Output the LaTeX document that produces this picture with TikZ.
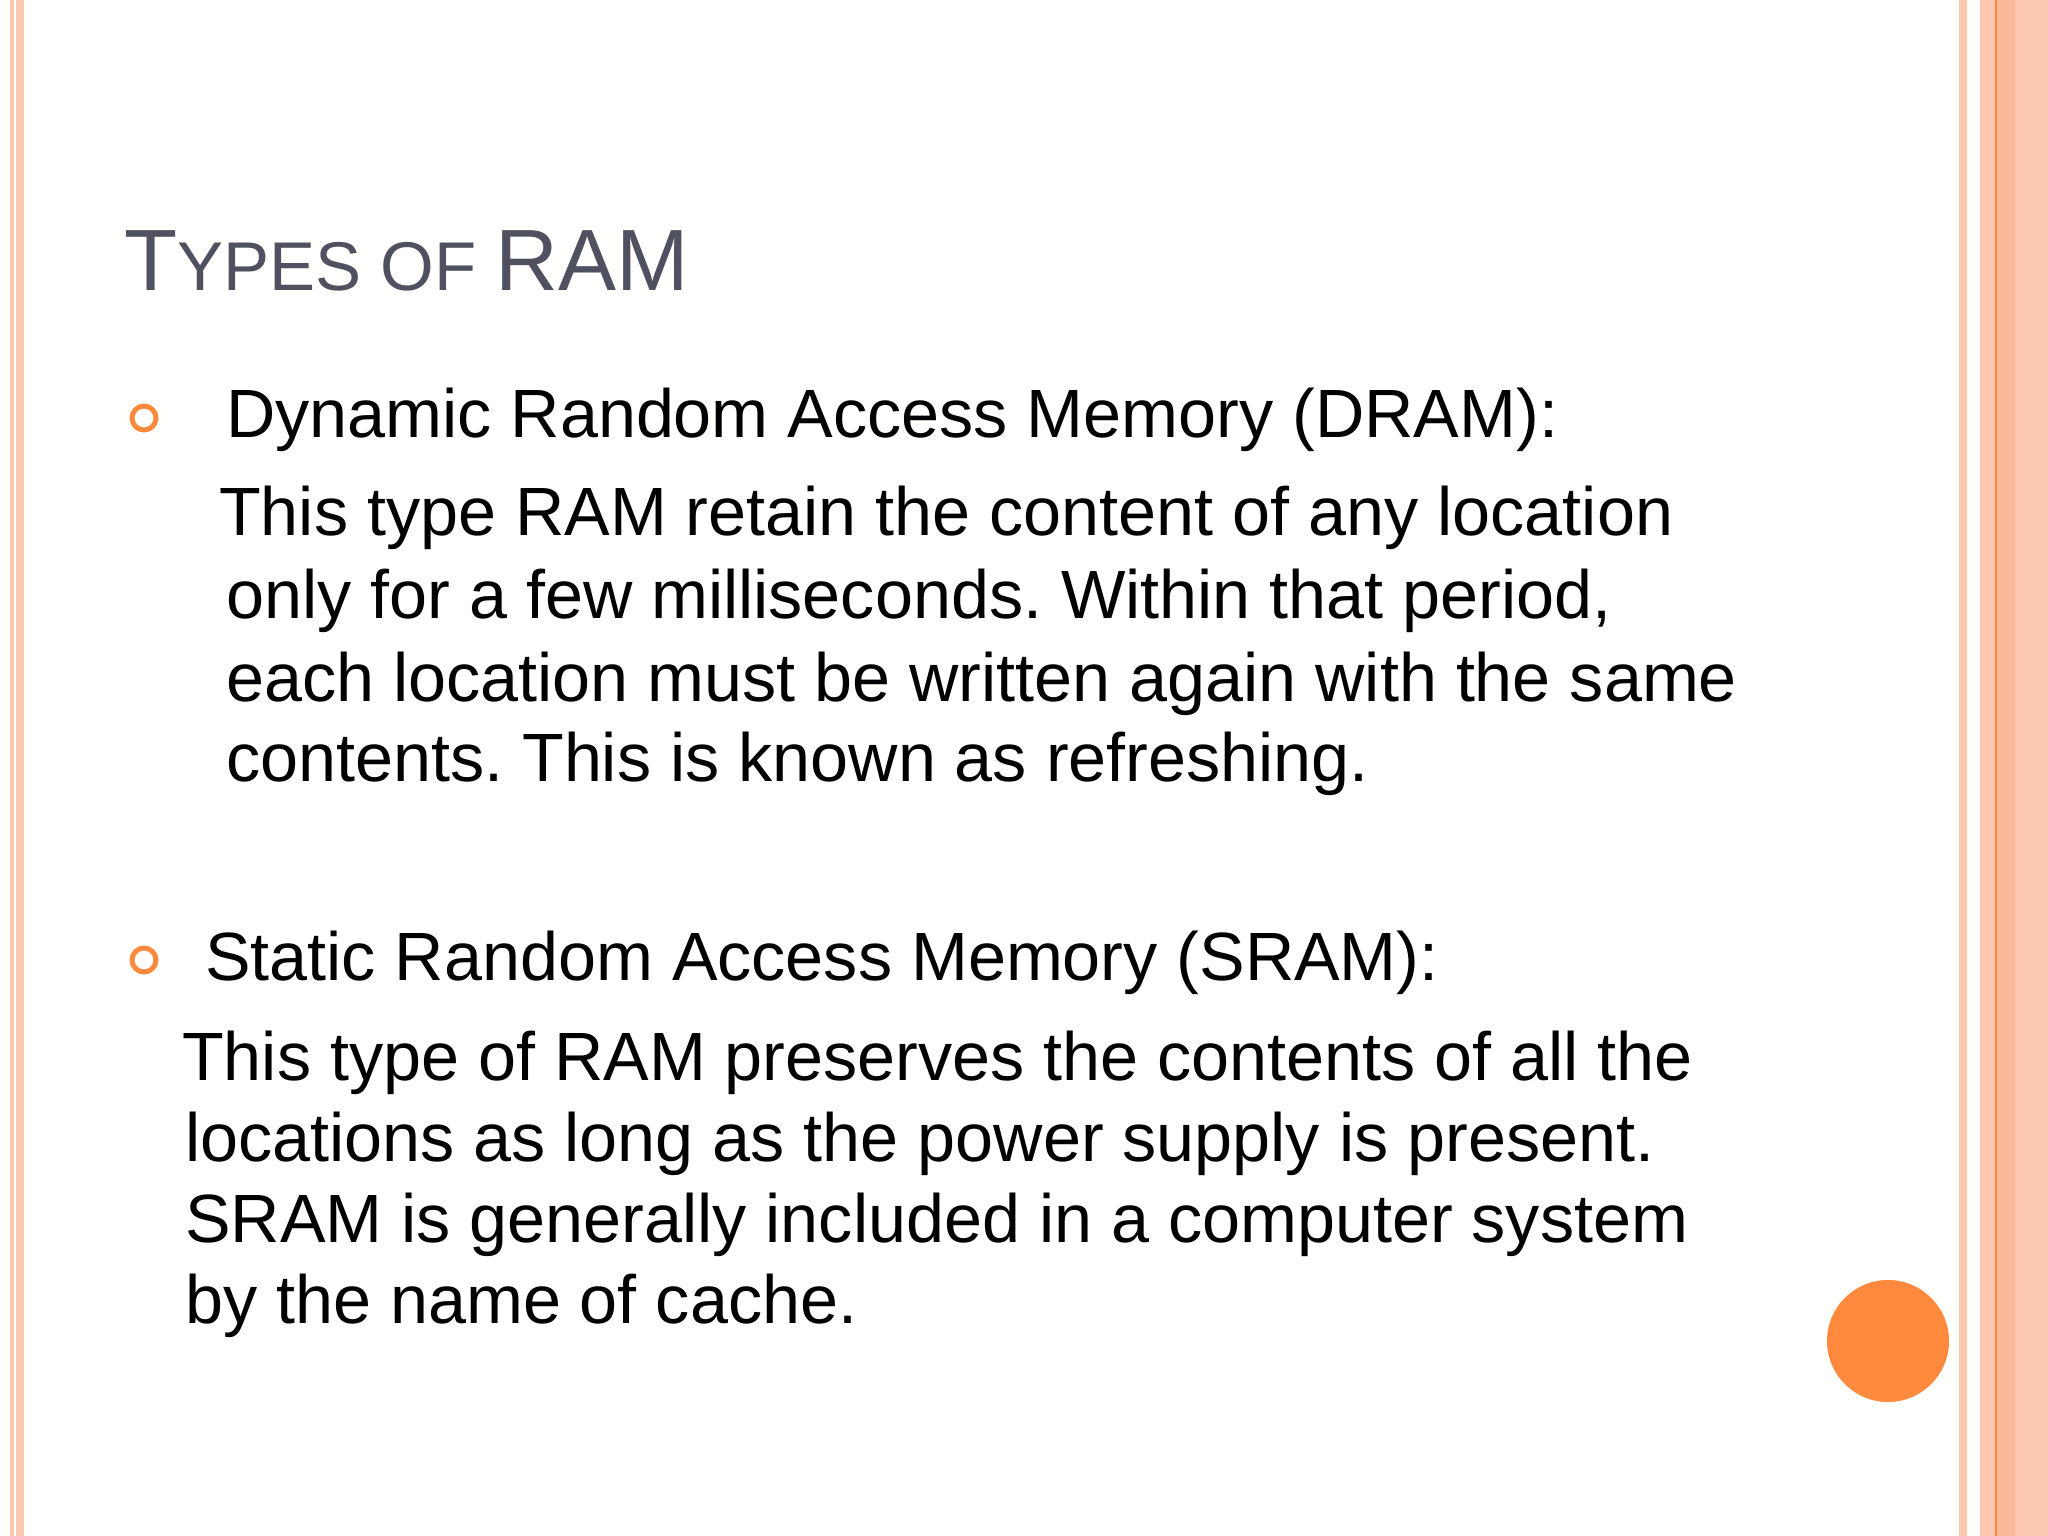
\documentclass[tikz,border=0pt]{standalone}
\usepackage{fontspec}
\setmainfont{Liberation Sans}
\frenchspacing
\definecolor{peach}{HTML}{FCC8B0}
\definecolor{peachd}{HTML}{F9BA9C}
\definecolor{orng}{HTML}{FF8A3D}
\definecolor{ttl}{HTML}{4F5060}
\definecolor{bg}{HTML}{FFFFFD}
\tikzset{
  body/.style={anchor=base west,inner sep=0pt,font=\fontsize{68.3}{80}\selectfont},
  bul/.style={circle,draw=orng,line width=5pt,minimum size=24pt,inner sep=0pt}
}
\begin{document}
\begin{tikzpicture}[x=1pt,y=-1pt]
\useasboundingbox (0,0) rectangle (2048,1536);
\fill[bg] (0,0) rectangle (2048,1536);
% left stripes
\fill[peach] (10,0) rectangle (24,1536);
\fill[white] (14,0) rectangle (16,1536);
% right stripes
\fill[peach] (1959,0) rectangle (1967,1536);
\fill[peach] (1980,0) rectangle (2048,1536);
\fill[peachd] (1996,0) rectangle (2015,1536);
\draw[orng,line width=1.5pt] (1996,0) -- (1996,1536);
% title
\node[anchor=base west,inner sep=0pt,text=ttl] (title) at (124,290)
  {\fontsize{87}{90}\selectfont T\fontsize{69}{70}\selectfont YPES OF \fontsize{87}{90}\selectfont RAM};
% bullets
\node[bul] (b1) at (144,418) {};
\node[bul] (b2) at (144,960) {};
\node[body] (h1) at (226,437) {Dynamic Random Access Memory (DRAM):};
\node[body] (l1) at (219,535) {This type RAM retain the content of any location};
\node[body] (l2) at (226,618) {only for a few milliseconds. Within that period,};
\node[body] (l3) at (226,701) {each location must be written again with the same};
\node[body] (l4) at (226,781) {contents. This is known as refreshing.};
\node[body] (h2) at (205,980) {Static Random Access Memory (SRAM):};
\node[body] (m1) at (182,1080) {This type of RAM preserves the contents of all the};
\node[body] (m2) at (185,1161) {locations as long as the power supply is present.};
\node[body] (m3) at (185,1242) {SRAM is generally included in a computer system};
\node[body] (m4) at (185,1323) {by the name of cache.};
\fill[orng] (1888,1341) circle (61);
\end{tikzpicture}
\end{document}
